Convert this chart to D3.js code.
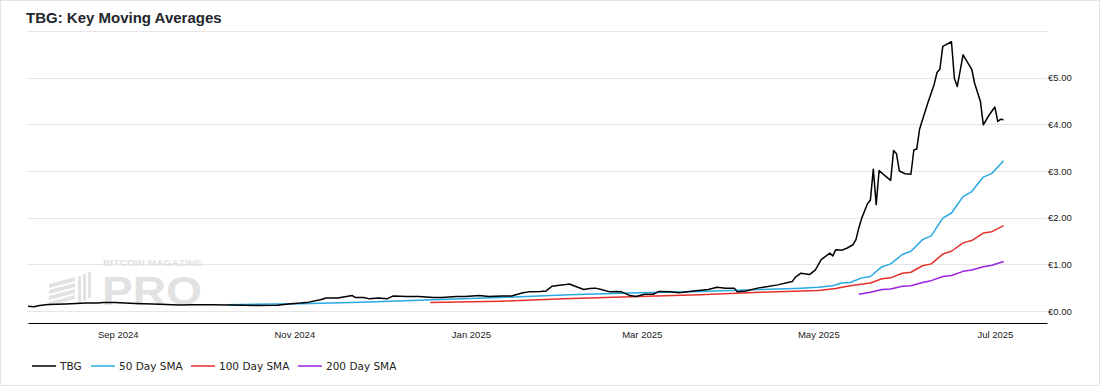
<!DOCTYPE html>
<html>
<head>
<meta charset="utf-8">
<script src="https://cdn.jsdelivr.net/npm/d3@7"></script>
<style>
  body { margin: 0; background: #fff; }
  svg { display: block; }
</style>
</head>
<body>
<div id="chart"></div>
<script>
var width = 1100,
    height = 386;

// TBG close
var tbgDates = ["2024-08-01","2024-08-03","2024-08-05","2024-08-08","2024-08-14","2024-08-21","2024-08-25","2024-08-27","2024-08-31",
  "2024-09-07","2024-09-13","2024-09-18","2024-09-22","2024-09-27","2024-10-03","2024-10-10","2024-10-19","2024-10-26","2024-10-30",
  "2024-11-03","2024-11-06","2024-11-10","2024-11-12","2024-11-16","2024-11-18","2024-11-21","2024-11-22","2024-11-25","2024-11-27","2024-11-30",
  "2024-12-03","2024-12-05","2024-12-10","2024-12-14","2024-12-19","2024-12-22","2024-12-27","2024-12-30",
  "2025-01-04","2025-01-07","2025-01-12","2025-01-15","2025-01-19","2025-01-21","2025-01-25","2025-01-27","2025-01-29",
  "2025-02-02","2025-02-04","2025-02-06","2025-02-09","2025-02-11","2025-02-13","2025-02-15","2025-02-18","2025-02-20","2025-02-22","2025-02-25","2025-02-27",
  "2025-03-02","2025-03-05","2025-03-07","2025-03-11","2025-03-14","2025-03-19","2025-03-24","2025-03-27","2025-03-30",
  "2025-04-02","2025-04-03","2025-04-06","2025-04-10","2025-04-12","2025-04-17","2025-04-22","2025-04-23","2025-04-25","2025-04-28","2025-04-30",
  "2025-05-02","2025-05-05","2025-05-06","2025-05-07","2025-05-09","2025-05-11","2025-05-13","2025-05-14","2025-05-15","2025-05-16","2025-05-18",
  "2025-05-19","2025-05-20","2025-05-21","2025-05-22","2025-05-24","2025-05-26","2025-05-27","2025-05-28","2025-05-29","2025-05-31",
  "2025-06-02","2025-06-03","2025-06-04","2025-06-05","2025-06-06","2025-06-08","2025-06-10","2025-06-11","2025-06-12","2025-06-13",
  "2025-06-16","2025-06-17","2025-06-18","2025-06-20","2025-06-23","2025-06-24","2025-06-26","2025-06-27","2025-06-29",
  "2025-07-01","2025-07-02","2025-07-03","2025-07-04"];
var tbgValues = [0.10,0.09,0.12,0.14,0.15,0.17,0.17,0.18,0.18,
  0.16,0.15,0.14,0.13,0.135,0.135,0.13,0.12,0.125,0.15,
  0.17,0.19,0.24,0.28,0.28,0.30,0.33,0.29,0.29,0.26,0.28,
  0.26,0.32,0.31,0.31,0.29,0.29,0.31,0.31,
  0.33,0.31,0.32,0.32,0.39,0.41,0.42,0.43,0.53,
  0.56,0.58,0.53,0.46,0.48,0.49,0.46,0.41,0.42,0.41,0.33,0.31,
  0.36,0.36,0.42,0.41,0.39,0.43,0.46,0.51,0.49,
  0.49,0.41,0.43,0.49,0.51,0.56,0.63,0.72,0.81,0.78,0.88,
  1.10,1.24,1.18,1.31,1.30,1.35,1.42,1.53,1.78,1.99,2.30,
  2.38,3.04,2.28,3.01,2.90,2.80,3.44,3.37,3.00,2.94,
  2.93,3.45,3.47,3.90,4.10,4.49,4.85,5.11,5.18,5.67,
  5.77,4.99,4.81,5.49,5.18,4.88,4.49,3.99,4.20,
  4.37,4.06,4.11,4.10];

var sma50Dates = ["2024-10-09","2024-11-03","2024-11-24","2024-12-19","2025-01-11","2025-02-04","2025-02-28","2025-03-21","2025-04-11","2025-04-25","2025-05-01",
  "2025-05-06","2025-05-09","2025-05-12","2025-05-16","2025-05-19","2025-05-23","2025-05-26","2025-05-30","2025-06-02","2025-06-06","2025-06-09",
  "2025-06-13","2025-06-16","2025-06-20","2025-06-23","2025-06-27","2025-06-30","2025-07-04"];
var sma50Values = [0.135,0.155,0.19,0.24,0.29,0.35,0.39,0.42,0.46,0.49,0.51,
  0.54,0.60,0.61,0.71,0.74,0.95,1.01,1.21,1.28,1.53,1.61,
  1.99,2.10,2.45,2.56,2.87,2.95,3.22];

var sma100Dates = ["2024-12-18","2025-01-11","2025-02-02","2025-02-28","2025-03-21","2025-04-11","2025-04-25","2025-05-01","2025-05-07","2025-05-12",
  "2025-05-19","2025-05-23","2025-05-26","2025-05-30","2025-06-02","2025-06-06","2025-06-09","2025-06-13","2025-06-16","2025-06-20",
  "2025-06-23","2025-06-27","2025-06-30","2025-07-04"];
var sma100Values = [0.18,0.21,0.26,0.31,0.35,0.40,0.43,0.44,0.48,0.54,
  0.60,0.69,0.71,0.81,0.83,0.97,1.01,1.22,1.28,1.46,
  1.51,1.67,1.70,1.83];

var sma200Dates = ["2025-05-15","2025-05-19","2025-05-23","2025-05-26","2025-05-30","2025-06-02","2025-06-06","2025-06-09","2025-06-13","2025-06-16",
  "2025-06-20","2025-06-23","2025-06-27","2025-06-30","2025-07-04"];
var sma200Values = [0.36,0.40,0.46,0.47,0.53,0.54,0.61,0.65,0.74,0.76,
  0.85,0.88,0.95,0.98,1.06];

var seriesNames = ["TBG", "50 Day SMA", "100 Day SMA", "200 Day SMA"];
var seriesColors = ["#000000", "#27a9e1", "#e5302c", "#9b22e0"];
var yTicks = [0, 1, 2, 3, 4, 5];

var parse = d3.timeParse("%Y-%m-%d");
function pairs(dates, values) {
    return dates.map(function(d, i) { return { date: parse(d), value: values[i] }; });
}
var series = [
    pairs(tbgDates, tbgValues),
    pairs(sma50Dates, sma50Values),
    pairs(sma100Dates, sma100Values),
    pairs(sma200Dates, sma200Values)
];

var x = d3.scaleTime()
    .domain([parse("2024-08-01"), parse("2025-07-19")])
    .range([28, 1047]);
var y = d3.scaleLinear().domain([0, 6]).range([311, 31]);

var svg = d3.select("#chart").append("svg")
    .attr("width", width)
    .attr("height", height)
    .style("font-family", "'DejaVu Sans', Verdana, sans-serif");

svg.append("rect")
    .attr("x", 0.5).attr("y", 0.5)
    .attr("width", width - 1).attr("height", height - 1)
    .attr("fill", "#fff").attr("stroke", "#e4e4e4");

svg.append("text")
    .attr("x", 26).attr("y", 23)
    .style("font-family", "'Liberation Sans', Arial, sans-serif")
    .style("font-weight", "bold")
    .style("font-size", "15px")
    .attr("fill", "#23262b")
    .text("TBG: Key Moving Averages");

// gridlines (including the unlabeled top one)
svg.append("g").selectAll("line")
    .data(yTicks.concat([6]))
    .enter().append("line")
    .attr("x1", 27).attr("x2", 1047)
    .attr("y1", function(d) { return Math.round(y(d)) + 0.5; })
    .attr("y2", function(d) { return Math.round(y(d)) + 0.5; })
    .attr("stroke", "#e6e6e6");

// watermark: slanted stripes + bars logo, then the wordmark
var wm = svg.append("g").attr("fill", "#e2e2e2");
[0, 1, 2, 3].forEach(function(i) {
    var top = 280 + i * 6;
    wm.append("path")
        .attr("d", "M49," + (top + 4) + " L75," + (top - 3) + " L75," + (top + 1) + " L49," + (top + 8) + " Z");
});
[[78, 276], [83, 274], [88, 272]].forEach(function(b) {
    wm.append("rect").attr("x", b[0]).attr("y", b[1]).attr("width", 3).attr("height", 303 - b[1] - (b[0] - 78) / 2);
});
wm.append("text")
    .attr("x", 103).attr("y", 266)
    .style("font-family", "'Liberation Sans', Arial, sans-serif")
    .style("font-weight", "bold").style("font-size", "8.5px")
    .attr("textLength", 99).attr("lengthAdjust", "spacingAndGlyphs")
    .text("BITCOIN MAGAZINE");
wm.append("text")
    .attr("x", 102).attr("y", 305)
    .style("font-family", "'Liberation Sans', Arial, sans-serif")
    .style("font-weight", "bold").style("font-size", "40px")
    .attr("textLength", 100).attr("lengthAdjust", "spacingAndGlyphs")
    .text("PRO");

// axes
var xAxis = svg.append("g")
    .attr("transform", "translate(0,323)")
    .call(d3.axisBottom(x)
        .ticks(d3.timeMonth.every(2))
        .tickFormat(d3.timeFormat("%b %Y"))
        .tickSize(0)
        .tickPadding(8));
xAxis.select(".domain").attr("stroke", "#000").attr("stroke-width", 1.2);
xAxis.selectAll("text").style("font-size", "9.5px").attr("fill", "#222");

var yAxis = svg.append("g")
    .attr("transform", "translate(1047,0)")
    .call(d3.axisRight(y)
        .tickValues(yTicks)
        .tickFormat(function(d) { return "€" + d.toFixed(2); })
        .tickSize(0)
        .tickPadding(1));
yAxis.select(".domain").remove();
yAxis.selectAll("text").style("font-size", "9.5px").attr("fill", "#222");

var line = d3.line()
    .x(function(d) { return x(d.date); })
    .y(function(d) { return y(d.value); });

// draw moving averages first, price on top
[3, 2, 1, 0].forEach(function(i) {
    svg.append("path")
        .datum(series[i])
        .attr("d", line)
        .attr("fill", "none")
        .attr("stroke", seriesColors[i])
        .attr("stroke-width", 1.5)
        .attr("stroke-linejoin", "round");
});

// legend
var legendX = [32, 91, 191, 298];
var legend = svg.append("g").selectAll("g")
    .data(seriesNames)
    .enter().append("g")
    .attr("transform", function(d, i) { return "translate(" + legendX[i] + ",366)"; });
legend.append("line")
    .attr("x1", 0).attr("x2", 24)
    .attr("stroke", function(d, i) { return seriesColors[i]; })
    .attr("stroke-width", 1.5);
legend.append("text")
    .attr("x", 28).attr("dy", "0.35em")
    .style("font-size", "10.5px")
    .attr("fill", "#222")
    .text(function(d) { return d; });
</script>
</body>
</html>
